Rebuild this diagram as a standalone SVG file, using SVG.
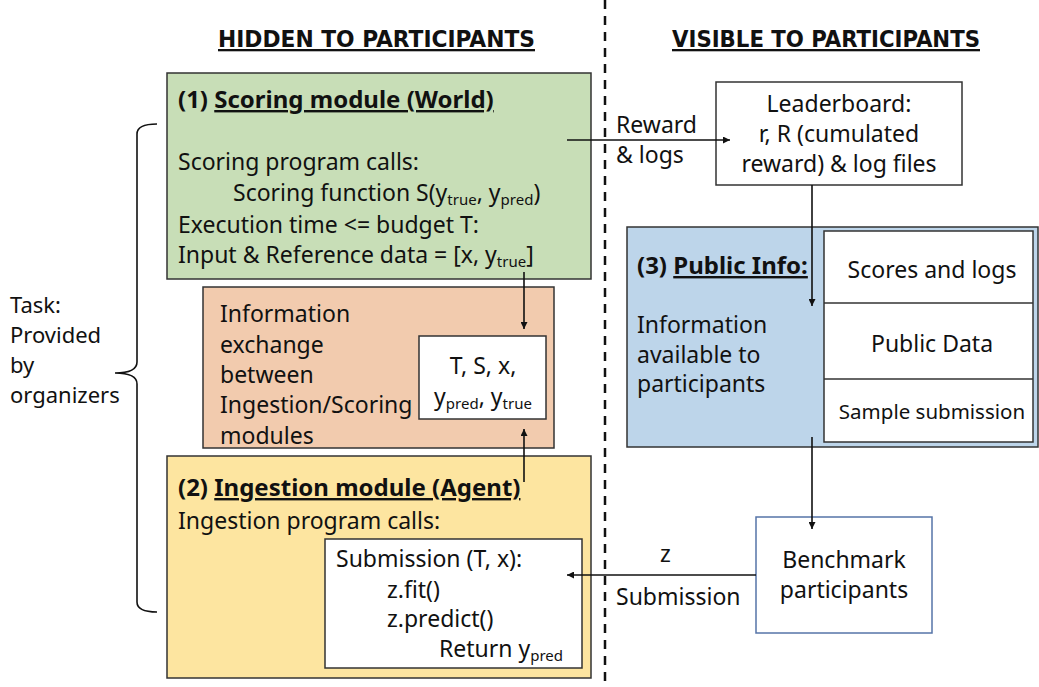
<svg xmlns="http://www.w3.org/2000/svg" width="1039" height="687" viewBox="0 0 1039 687">
<style>
text{font-family:"Noto Sans","Open Sans","DejaVu Sans",sans-serif;font-size:23px;fill:#111}
.b{font-weight:bold;font-size:24px}
.u{text-decoration:underline}
.hdr{font-family:"DejaVu Sans Condensed","Liberation Sans Narrow","Liberation Sans",sans-serif;font-weight:bold;font-size:23px;text-decoration:underline}
.box{stroke:#333;stroke-width:1.5}
.ln{stroke:#111;stroke-width:1.6;fill:none}
.c{text-anchor:middle}
.sub{font-size:15px}
.t{font-size:22px}
</style>
<defs>
<marker id="ah" viewBox="0 0 10 10" refX="10" refY="5" markerWidth="7" markerHeight="7" orient="auto" markerUnits="userSpaceOnUse">
<path d="M0,0 L10,5 L0,10 z" fill="#111"/>
</marker>
</defs>
<rect width="1039" height="687" fill="#fff"/>

<g id="divider">
<line x1="605" y1="0" x2="605" y2="687" stroke="#111" stroke-width="2.5" stroke-dasharray="9,7"/>
</g>

<g id="headers">
<text class="hdr" x="218" y="47" textLength="317" lengthAdjust="spacingAndGlyphs">HIDDEN TO PARTICIPANTS</text>
<text class="hdr" x="672" y="47" textLength="308" lengthAdjust="spacingAndGlyphs">VISIBLE TO PARTICIPANTS</text>
</g>

<g id="task">
<path class="ln" d="M157,124 Q137,124 137,134 L137,362 Q137,373 115,373 Q137,373 137,384 L137,602 Q137,612 157,612"/>
<text class="t" x="10" y="313">Task:</text>
<text class="t" x="10" y="343">Provided</text>
<text class="t" x="10" y="373">by</text>
<text class="t" x="10" y="403">organizers</text>
</g>

<g id="scoring">
<rect class="box" x="167" y="73" width="424" height="206" fill="#c8deb7"/>
<text class="b" x="178" y="108">(1) <tspan class="u">Scoring module (World)</tspan></text>
<text x="178" y="170">Scoring program calls:</text>
<text x="233" y="201">Scoring function S(y<tspan class="sub" dy="4">true</tspan><tspan dy="-4">, y</tspan><tspan class="sub" dy="4">pred</tspan><tspan dy="-4">)</tspan></text>
<text x="178" y="233">Execution time &lt;= budget T:</text>
<text x="178" y="263">Input &amp; Reference data = [x, y<tspan class="sub" dy="4">true</tspan><tspan dy="-4">]</tspan></text>
</g>

<g id="exchange">
<rect class="box" x="203" y="287" width="351" height="161" fill="#f2cbae"/>
<text x="220" y="322">Information</text>
<text x="220" y="353">exchange</text>
<text x="220" y="383">between</text>
<text x="220" y="413">Ingestion/Scoring</text>
<text x="220" y="444">modules</text>
<rect class="box" x="419" y="336" width="127" height="83" fill="#fff"/>
<text class="c" x="483" y="374">T, S, x,</text>
<text class="c" x="483" y="405">y<tspan class="sub" dy="4">pred</tspan><tspan dy="-4">, y</tspan><tspan class="sub" dy="4">true</tspan></text>
</g>

<g id="ingestion">
<rect class="box" x="167" y="456" width="424" height="222" fill="#fde5a0"/>
<text class="b" x="178" y="496">(2) <tspan class="u">Ingestion module (Agent)</tspan></text>
<text x="178" y="529">Ingestion program calls:</text>
<rect class="box" x="325" y="539" width="257" height="129" fill="#fff"/>
<text x="336" y="567">Submission (T, x):</text>
<text x="387" y="598">z.fit()</text>
<text x="387" y="627">z.predict()</text>
<text x="439" y="657">Return y<tspan class="sub" dy="4">pred</tspan></text>
</g>

<g id="leaderboard">
<rect class="box" x="716" y="82" width="246" height="103" fill="#fff"/>
<text class="c" x="839" y="112">Leaderboard:</text>
<text class="c" x="839" y="142">r, R (cumulated</text>
<text class="c" x="839" y="172">reward) &amp; log files</text>
</g>

<g id="public">
<rect class="box" x="627" y="227" width="411" height="220" fill="#bdd5ea"/>
<text class="b" x="637" y="274">(3) <tspan class="u">Public Info:</tspan></text>
<text x="637" y="333">Information</text>
<text x="637" y="363">available to</text>
<text x="637" y="392">participants</text>
<rect class="box" x="824" y="231" width="209" height="211" fill="#fff"/>
<line class="box" x1="824" y1="303" x2="1033" y2="303"/>
<line class="box" x1="824" y1="379" x2="1033" y2="379"/>
<text class="c" x="932" y="278">Scores and logs</text>
<text class="c" x="932" y="352">Public Data</text>
<text class="c" x="932" y="419" style="font-size:20.5px">Sample submission</text>
</g>

<g id="benchmark">
<rect x="756" y="517" width="176" height="116" fill="#fff" stroke="#5674a8" stroke-width="1.5"/>
<text class="c" x="844" y="568">Benchmark</text>
<text class="c" x="844" y="598">participants</text>
</g>

<g id="connectors">
<line class="ln" x1="567" y1="140" x2="730" y2="140" marker-end="url(#ah)"/>
<line class="ln" x1="812" y1="185" x2="812" y2="306" marker-end="url(#ah)"/>
<line class="ln" x1="524" y1="272" x2="524" y2="329" marker-end="url(#ah)"/>
<line class="ln" x1="524" y1="482" x2="524" y2="429" marker-end="url(#ah)"/>
<line class="ln" x1="812" y1="437" x2="812" y2="529" marker-end="url(#ah)"/>
<line class="ln" x1="756" y1="575" x2="567" y2="575" marker-end="url(#ah)"/>
<text x="616" y="133">Reward</text>
<text x="616" y="163">&amp; logs</text>
<text x="660" y="562">z</text>
<text x="616" y="605">Submission</text>
</g>
</svg>
